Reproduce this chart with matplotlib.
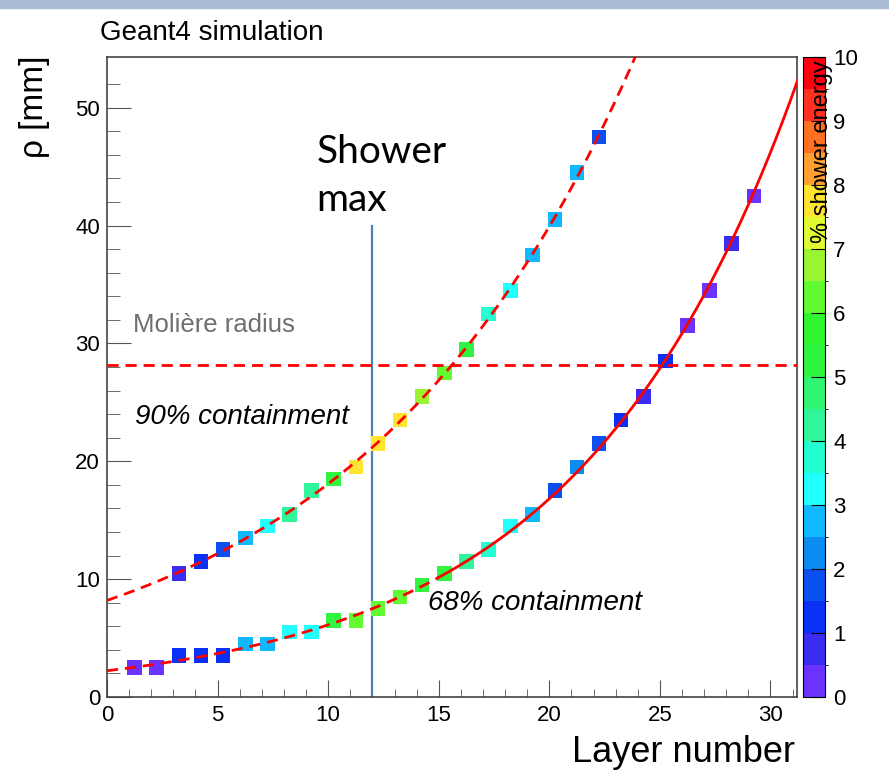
"""Lateral shower containment radius vs layer (Geant4)."""
import numpy as np
import matplotlib.pyplot as plt
from matplotlib.colors import ListedColormap, BoundaryNorm
from matplotlib.cm import ScalarMappable
from matplotlib.patches import Rectangle

# 68% containment points
layer_68 = [1.25, 2.25, 3.25, 4.25, 5.25, 6.25, 7.25, 8.25, 9.25, 10.25,
            11.25, 12.25, 13.25, 14.25, 15.25, 16.25, 17.25, 18.25, 19.25, 20.25,
            21.25, 22.25, 23.25, 24.25, 25.25, 26.25, 27.25, 28.25, 29.25]
rho_68 = [2.5, 2.5, 3.5, 3.5, 3.5, 4.5, 4.5, 5.5, 5.5, 6.5,
          6.5, 7.5, 8.5, 9.5, 10.5, 11.5, 12.5, 14.5, 15.5, 17.5,
          19.5, 21.5, 23.5, 25.5, 28.5, 31.5, 34.5, 38.5, 42.5]
energy_68 = [0.25, 0.25, 1.25, 1.25, 1.25, 2.75, 2.75, 3.25, 3.25, 5.25,
             6.25, 6.25, 6.25, 5.25, 5.25, 4.25, 3.75, 3.25, 2.75, 1.75,
             2.25, 1.75, 1.25, 0.75, 1.25, 0.25, 0.25, 0.75, 0.25]

# 90% containment points
layer_90 = [3.25, 4.25, 5.25, 6.25, 7.25, 8.25, 9.25, 10.25, 11.25, 12.25,
            13.25, 14.25, 15.25, 16.25, 17.25, 18.25, 19.25, 20.25, 21.25, 22.25]
rho_90 = [10.5, 11.5, 12.5, 13.5, 14.5, 15.5, 17.5, 18.5, 19.5, 21.5,
          23.5, 25.5, 27.5, 29.5, 32.5, 34.5, 37.5, 40.5, 44.5, 47.5]
energy_90 = [0.75, 1.25, 1.75, 2.75, 3.25, 4.25, 4.25, 5.25, 7.75, 7.75,
             7.75, 6.75, 6.25, 5.25, 3.75, 3.25, 2.75, 2.75, 2.75, 1.75]

moliere_radius = 28.2
shower_max_layer = 12.0

palette = ["#6a33ff", "#3a2cf0", "#0a30f5", "#0a50f0", "#0a8cf0",
           "#10b8ff", "#22ffff", "#22ffd0", "#30f59a", "#30f570",
           "#30f540", "#30f530", "#62fa30", "#9af530", "#e2fa30",
           "#ffe430", "#ffa030", "#ff7020", "#ff3020", "#ff0010"]
cmap = ListedColormap(palette)
norm = BoundaryNorm(np.linspace(0, 10, 21), cmap.N)

plt.rcParams["font.family"] = ["Liberation Sans", "DejaVu Sans"]

fig = plt.figure(figsize=(8.89, 7.76), dpi=100)
fig.patches.append(Rectangle((0, 1 - 8 / 776), 1, 8 / 776, transform=fig.transFigure,
                             color="#a9bcd6", zorder=0))
ax = fig.add_axes([107 / 889, 79 / 776, 690 / 889, 640 / 776])
cax = fig.add_axes([803 / 889, 79 / 776, 22 / 889, 640 / 776])

ax.scatter(layer_68, rho_68, c=energy_68, cmap=cmap, norm=norm, marker="s",
           s=110, linewidths=0, zorder=3)
ax.scatter(layer_90, rho_90, c=energy_90, cmap=cmap, norm=norm, marker="s",
           s=110, linewidths=0, zorder=3)

# exponential fits (linear in log rho)
dash = (0, (4, 2.5))
fit_68 = np.polyfit(layer_68, np.log(rho_68), 1)
fit_90 = np.polyfit(layer_90, np.log(rho_90), 1)
xs_a = np.linspace(0, 15, 200)
xs_b = np.linspace(15, 31.3, 300)
ax.plot(xs_a, np.exp(np.polyval(fit_68, xs_a)), color="red", lw=2, ls=dash, zorder=4)
ax.plot(xs_b, np.exp(np.polyval(fit_68, xs_b)), color="red", lw=2, zorder=4)
xs_c = np.linspace(0, 25, 400)
ax.plot(xs_c, np.exp(np.polyval(fit_90, xs_c)), color="red", lw=2, ls=dash, zorder=4)

ax.axhline(moliere_radius, color="red", lw=2, ls=dash, zorder=4)
ax.plot([shower_max_layer, shower_max_layer], [0, 40], color="#4f7fbf", lw=1.6, zorder=2)

ax.set_xlim(0, 31.2)
ax.set_ylim(0, 54.3)
ax.set_xticks(np.arange(0, 31, 5))
ax.set_xticks(np.arange(0, 31.2, 1), minor=True)
ax.set_yticks(np.arange(0, 51, 10))
ax.set_yticks(np.arange(0, 54, 2), minor=True)
ax.tick_params(axis="both", which="both", direction="in", colors="#555555",
               labelcolor="black", labelsize=16)
ax.tick_params(axis="x", which="major", length=12, pad=6)
ax.tick_params(axis="x", which="minor", length=6)
ax.tick_params(axis="y", which="major", length=17, pad=5)
ax.tick_params(axis="y", which="minor", length=9)
for side in ax.spines.values():
    side.set_color("#444444")
    side.set_linewidth(1.2)

ax.text(9.46, 45.3, "Shower", fontsize=28, family=["Lato", "DejaVu Sans"])
ax.text(9.46, 41.2, "max", fontsize=28, family=["Lato", "DejaVu Sans"])
ax.text(1.18, 31.0, "Molière radius", fontsize=18.5, color="#6f6f6f")
ax.text(1.27, 23.2, "90% containment", fontsize=20, style="italic")
ax.text(14.5, 7.4, "68% containment", fontsize=20, style="italic")

fig.text(100 / 889, 1 - 40 / 776, "Geant4 simulation", fontsize=20)
fig.text(34 / 889, 1 - 55 / 776, "ρ [mm]", fontsize=24, rotation=90, ha="center", va="top")
fig.text(795 / 889, 1 - 762 / 776, "Layer number", fontsize=26, ha="right")

cb = fig.colorbar(ScalarMappable(norm=norm, cmap=cmap), cax=cax)
cb.set_ticks(np.arange(0, 11, 1))
cb.ax.tick_params(direction="in", length=10, labelsize=16, pad=6)
cb.outline.set_edgecolor("black")
fig.text(822 / 889, 1 - 60 / 776, "% shower energy", fontsize=17, rotation=90,
         ha="center", va="top")

fig.savefig("out.png", dpi=100)
